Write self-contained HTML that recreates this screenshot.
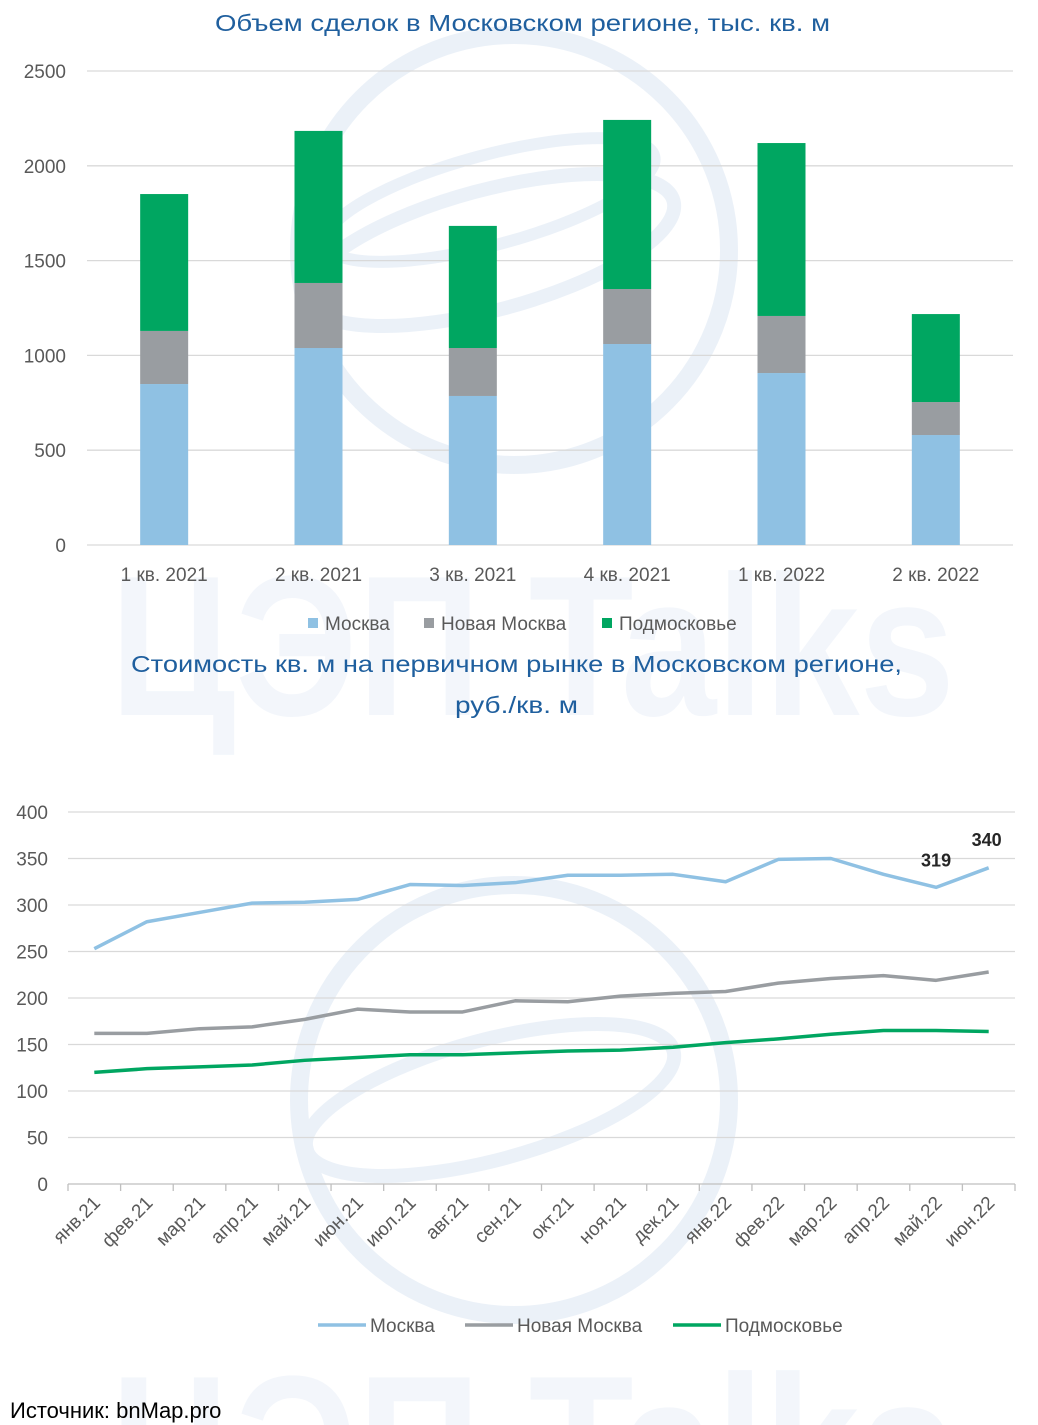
<!DOCTYPE html>
<html><head><meta charset="utf-8"><style>
html,body{margin:0;padding:0;background:#fff;overflow:hidden;width:1038px;height:1425px;}
svg{display:block;font-family:"Liberation Sans",sans-serif;overflow:hidden;}
</style></head><body>
<svg id="c" width="1038" height="1425" viewBox="0 0 1038 1425">
<g opacity="0.55">
  <circle cx="514" cy="250" r="215" fill="none" stroke="#dbe6f3" stroke-width="18"/>
  <ellipse cx="490" cy="250" rx="190" ry="60" fill="none" stroke="#dbe6f3" stroke-width="14" transform="rotate(-15 490 250)"/>
  <ellipse cx="490" cy="200" rx="170" ry="45" fill="none" stroke="#dbe6f3" stroke-width="12" transform="rotate(-15 490 200)"/>
  <circle cx="514" cy="1100" r="215" fill="none" stroke="#dbe6f3" stroke-width="18"/>
  <ellipse cx="490" cy="1100" rx="190" ry="60" fill="none" stroke="#dbe6f3" stroke-width="14" transform="rotate(-15 490 1100)"/>
  <text x="110" y="715" font-size="200" font-weight="bold" fill="#e9eff8" textLength="845" lengthAdjust="spacingAndGlyphs">ЦЭП Talks</text>
  <text x="110" y="1515" font-size="200" font-weight="bold" fill="#e9eff8" textLength="845" lengthAdjust="spacingAndGlyphs">ЦЭП Talks</text>
</g>
<text x="215" y="31" font-size="23" fill="#1f5f9e" textLength="615" lengthAdjust="spacingAndGlyphs">Объем сделок в Московском регионе,  тыс. кв. м</text>
<g id="bars"></g>
<text x="131" y="672" font-size="23" fill="#1f5f9e" textLength="771" lengthAdjust="spacingAndGlyphs">Стоимость кв. м на первичном рынке в Московском регионе,</text>
<text x="455" y="713" font-size="23" fill="#1f5f9e" textLength="123" lengthAdjust="spacingAndGlyphs">руб./кв. м</text>
<g id="lines"></g>
<text x="10" y="1418" font-size="22" fill="#000">Источник: bnMap.pro</text>
</svg>
<script>
const quarters=["1 кв. 2021","2 кв. 2021","3 кв. 2021","4 кв. 2021","1 кв. 2022","2 кв. 2022"];
const moscowVol=[849,1039,786,1060,907,580];
const newMoscowVol=[280,343,253,290,301,174];
const regionVol=[722,802,644,892,912,464];
const barTicks=[0,500,1000,1500,2000,2500];
const months=["янв.21","фев.21","мар.21","апр.21","май.21","июн.21","июл.21","авг.21","сен.21","окт.21","ноя.21","дек.21","янв.22","фев.22","мар.22","апр.22","май.22","июн.22"];
const moscowPrice=[253,282,292,302,303,306,322,321,324,332,332,333,325,349,350,333,319,340];
const newMoscowPrice=[162,162,167,169,177,188,185,185,197,196,202,205,207,216,221,224,219,228];
const regionPrice=[120,124,126,128,133,136,139,139,141,143,144,147,152,156,161,165,165,164];
const lineTicks=[0,50,100,150,200,250,300,350,400];
const NS="http://www.w3.org/2000/svg";
function mk(p,t,a,txt){const e=document.createElementNS(NS,t);for(const k in a)e.setAttribute(k,a[k]);if(txt!==undefined)e.textContent=txt;p.appendChild(e);return e;}
const B=document.getElementById('bars');
const bx0=87,bx1=1013,by0=545,by1=71,bmax=2500;
const byS=v=>by0-(by0-by1)*v/bmax;
const bw=(bx1-bx0)/quarters.length;
const bxC=i=>bx0+bw*(i+0.5);
barTicks.forEach(t=>{
 const g=mk(B,'line',{x1:bx0,x2:bx1,y1:byS(t),y2:byS(t),stroke:'#d9d9d9','stroke-width':1.3});
 
 
 const l=mk(B,'text',{x:66,y:byS(t)+7,'text-anchor':'end','font-size':19,fill:'#595959'},t);
 
 
});
const series=[[moscowVol,'#8fc1e3','moscow'],[newMoscowVol,'#999da1','new-moscow'],[regionVol,'#00a661','region']];
quarters.forEach((q,i)=>{
 let acc=0;
 series.forEach(([arr,col,nm])=>{
  const v=arr[i];
  const r=mk(B,'rect',{x:bxC(i)-24,width:48,y:byS(acc+v),height:byS(acc)-byS(acc+v),fill:col});
  
  
  acc+=v;
 });
 const l=mk(B,'text',{x:bxC(i),y:581,'text-anchor':'middle','font-size':19,fill:'#595959'},q);
 
 
});
const bl=[['Москва','#8fc1e3',308],['Новая Москва','#999da1',424],['Подмосковье','#00a661',602]];
bl.forEach(([n,c,x])=>{
 const r=mk(B,'rect',{x:x,y:618,width:10,height:10,fill:c});
 
 
 const t=mk(B,'text',{x:x+17,y:630,'font-size':19,fill:'#595959'},n);
 
 
});
const L=document.getElementById('lines');
const lx0=68,lx1=1015,ly0=1184,ly1=812,lmax=400;
const lyS=v=>ly0-(ly0-ly1)*v/lmax;
const cw=(lx1-lx0)/months.length;
const lxC=i=>lx0+cw*(i+0.5);
lineTicks.forEach(t=>{
 const g=mk(L,'line',{x1:lx0,x2:lx1,y1:lyS(t),y2:lyS(t),stroke:t===0?'#bfbfbf':'#d9d9d9','stroke-width':1.3});
 
 
 const l=mk(L,'text',{x:48,y:lyS(t)+7,'text-anchor':'end','font-size':19,fill:'#595959'},t);
 
 
});
for(let i=0;i<=months.length;i++){
 const x=lx0+cw*i;
 const tk=mk(L,'line',{x1:x,x2:x,y1:ly0,y2:ly0+7,stroke:'#bfbfbf','stroke-width':1.3});
 
 
}
months.forEach((m,i)=>{
 const x=lxC(i)+7,y=1204;
 const l=mk(L,'text',{x:x,y:y,'text-anchor':'end','font-size':19,fill:'#595959',transform:`rotate(-45 ${x} ${y})`},m);
 
 
});
const ls=[[moscowPrice,'#8fc1e3','moscow'],[newMoscowPrice,'#999da1','new-moscow'],[regionPrice,'#00a661','region']];
ls.forEach(([arr,col,nm])=>{
 const p=mk(L,'polyline',{points:arr.map((v,i)=>lxC(i)+','+lyS(v)).join(' '),fill:'none',stroke:col,'stroke-width':3.5,'stroke-linejoin':'round'});
 
 
});
[16,17].forEach(i=>{
 const v=moscowPrice[i];
 const t=mk(L,'text',{x:lxC(i)-(i===16?0:2),y:lyS(v)-(i===16?21:22),'text-anchor':'middle','font-size':18,'font-weight':'bold',fill:'#262626'},v);
 
 
});
const ll=[['Москва','#8fc1e3',318],['Новая Москва','#999da1',465],['Подмосковье','#00a661',673]];
ll.forEach(([n,c,x])=>{
 const r=mk(L,'line',{x1:x,x2:x+48,y1:1325,y2:1325,stroke:c,'stroke-width':3.5});
 
 
 const t=mk(L,'text',{x:x+52,y:1332,'font-size':19,fill:'#595959'},n);
 
 
});
</script>
</body></html>
